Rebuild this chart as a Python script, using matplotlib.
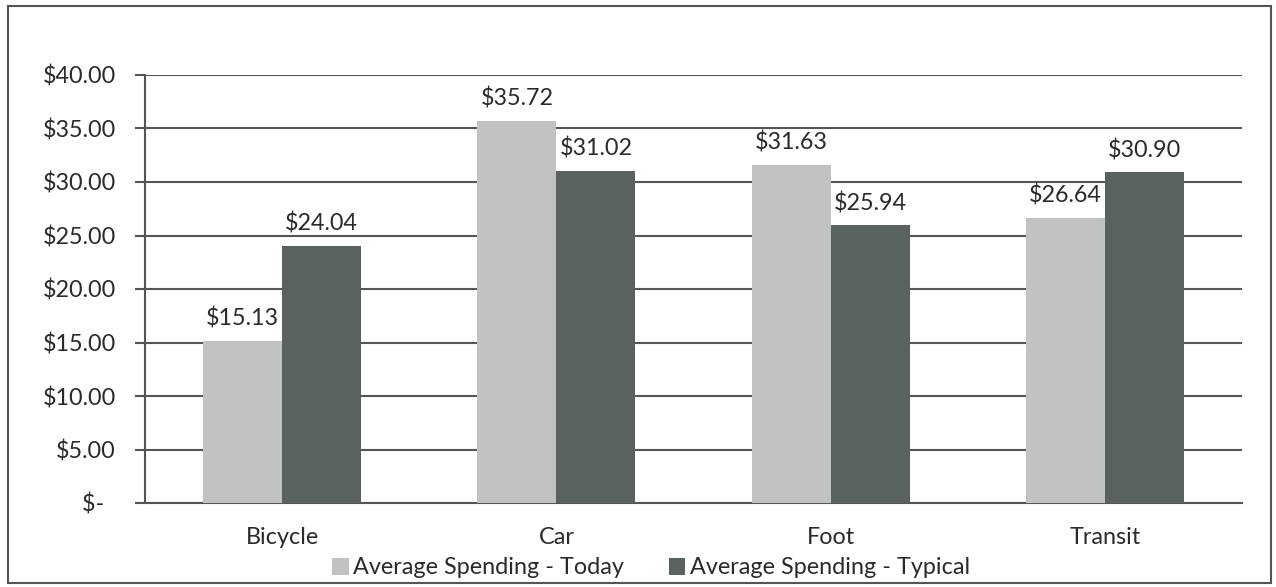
import matplotlib
matplotlib.use("Agg")
import matplotlib.pyplot as plt
import numpy as np
from matplotlib.patches import Rectangle

categories = ["Bicycle", "Car", "Foot", "Transit"]
today = [15.13, 35.72, 31.63, 26.64]
typical = [24.04, 31.02, 25.94, 30.90]
series_names = ["Average Spending - Today", "Average Spending - Typical"]
yticks = [0, 5, 10, 15, 20, 25, 30, 35, 40]

plt.rcParams['font.family'] = ['Lato', 'DejaVu Sans']

W, H = 1276, 587
FS = 16.8
TC = "#2a2a2a"
fig = plt.figure(figsize=(W / 100, H / 100), dpi=100)
ax = fig.add_axes([145 / W, 1 - 503 / H, (1242 - 145) / W, (503 - 75) / H])

x = np.arange(len(categories))
bw = 0.288
c_today = "#c0c2c3"
c_typ = "#5a625f"
b1 = ax.bar(x - bw / 2, today, bw, color=c_today, label=series_names[0], zorder=3)
b2 = ax.bar(x + bw / 2, typical, bw, color=c_typ, label=series_names[1], zorder=3)

for bars, vals in ((b1, today), (b2, typical)):
    for r, v in zip(bars, vals):
        ax.annotate(f"${v:.2f}", (r.get_x() + r.get_width() / 2, v),
                    xytext=(0, 8), textcoords="offset points",
                    ha="center", va="bottom", fontsize=FS, color=TC)

ax.set_xlim(-0.5, len(categories) - 0.5)
ax.set_ylim(0, 40)
ax.set_yticks(yticks)
ax.set_yticklabels(["$-  " if v == 0 else f"${v:.2f}" for v in yticks], fontsize=FS, color=TC)
ax.set_xticks(x)
ax.set_xticklabels(categories, fontsize=FS, color=TC)
ax.tick_params(axis="x", length=0, pad=17)
ax.tick_params(axis="y", length=7, width=1.5, color="#555555", pad=14)
ax.yaxis.grid(True, color="#555555", linewidth=1.5, zorder=0)
for s in ["top", "right"]:
    ax.spines[s].set_visible(False)
ax.spines["left"].set_color("#555555")
ax.spines["left"].set_linewidth(1.5)
ax.spines["bottom"].set_color("#555555")
ax.spines["bottom"].set_linewidth(1.5)

fig.legend(handles=[b1, b2], labels=series_names, loc="center",
           bbox_to_anchor=(651 / W, 1 - 568 / H), ncol=2, frameon=False,
           fontsize=FS, handlelength=0.7, handleheight=0.7, handletextpad=0.2,
           columnspacing=1.9, labelcolor=TC, borderpad=0)

fig.patches.append(Rectangle((8 / W, 1 - 583 / H), (1271 - 8) / W, (583 - 6) / H,
                             transform=fig.transFigure, fill=False,
                             edgecolor="#555555", linewidth=1.5))

fig.savefig("out.png", dpi=100)
